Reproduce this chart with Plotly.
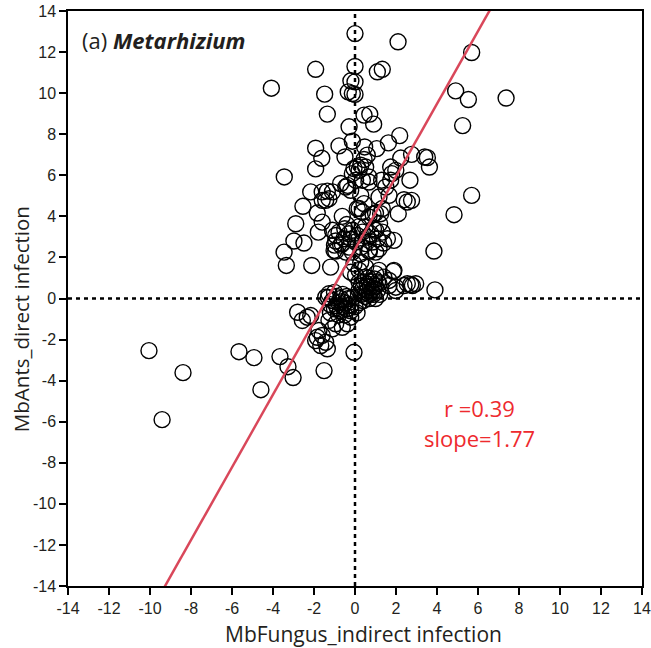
import plotly.graph_objects as go

# ---- data ----
pts = [
    # upper / outer points
    (0.0, 12.9), (2.1, 12.5), (5.69, 11.98), (-1.92, 11.16), (0.0, 11.3), (1.09, 11.04), (1.33, 11.16),
    (-0.2, 10.6), (0.0, 10.55), (-4.08, 10.24), (-1.48, 9.95), (-0.33, 10.06), (-0.13, 9.98), (0.0, 9.94),
    (4.91, 10.11), (5.53, 9.69), (7.37, 9.76), (-1.35, 8.98), (0.44, 8.93), (0.72, 8.98), (0.91, 8.49),
    (-0.29, 8.36), (5.25, 8.42), (2.18, 7.93), (-0.13, 7.66), (-0.78, 7.43), (-1.92, 7.32), (0.47, 7.38),
    (1.06, 7.3), (1.63, 7.58), (-1.62, 6.83), (-0.49, 6.89), (0.6, 6.98), (0.44, 6.77), (2.23, 6.84),
    (2.76, 7.02), (3.4, 6.89), (3.53, 6.86), (3.63, 6.4), (-1.92, 6.31), (-0.05, 6.33), (0.11, 6.4),
    (0.28, 6.49), (1.74, 6.4), (1.79, 6.08), (2.68, 5.76), (-3.45, 5.92), (-0.36, 5.51), (0.03, 5.76),
    (0.68, 5.92), (1.3, 5.76), (-2.16, 5.19), (-1.6, 5.19), (-1.35, 5.23), (-1.1, 5.19), (-1.43, 4.78),
    (5.69, 5.02), (2.39, 4.81), (2.76, 4.78), (2.55, 4.7), (0.28, 5.02), (1.17, 4.94), (-2.54, 4.49),
    (-1.84, 4.16), (-0.62, 4.0), (0.2, 4.38), (0.88, 4.1), (1.0, 4.16), (2.11, 4.13), (4.83, 4.08),
    (-2.89, 3.64), (-1.6, 3.72), (-1.79, 3.23), (-0.13, 6.08), (0.2, 6.24), (0.52, 6.4), (0.36, 5.76),
    (0.68, 5.67), (0.44, 4.62), (0.11, 4.38), (0.36, 4.21), (0.68, 3.97), (1.25, 4.13), (1.33, 4.38),
    (1.66, 5.02), (1.5, 5.43), (1.74, 5.76), (1.99, 6.24), (-0.7, 5.6), (-0.45, 5.43), (-0.21, 5.27),
    (-1.27, 4.86), (-1.6, 4.78),
    # middle cluster
    (-1.1, 3.32), (-0.94, 3.07), (-0.78, 3.23), (-0.54, 2.91), (-0.29, 3.15), (-0.13, 3.32), (0.11, 3.07),
    (0.36, 3.23), (0.6, 2.99), (0.77, 3.15), (1.01, 3.32), (1.33, 3.23), (1.58, 2.91), (1.9, 2.83),
    (-0.62, 2.67), (-0.29, 2.5), (0.03, 2.75), (0.52, 2.67), (0.85, 2.75), (1.17, 2.42), (-1.02, 2.34),
    (-0.45, 2.26), (-0.94, 2.8), (-0.7, 2.6), (-0.2, 2.9), (0.3, 2.5), (0.2, 3.5), (0.5, 3.5), (1.2, 3.65),
    (-0.5, 3.4), (-1.0, 2.6), (0.9, 3.4), (1.4, 2.7), (1.1, 2.9), (-0.4, 3.6), (0.7, 2.3),
    (-2.98, 2.8), (-2.49, 2.7), (-3.46, 2.26), (-0.94, 2.31), (-0.13, 2.26), (0.28, 2.18), (0.68, 2.34),
    (1.01, 2.26), (3.85, 2.31),
    (-3.35, 1.61), (-2.11, 1.61), (-1.19, 1.53), (-0.05, 1.69), (0.28, 1.77), (0.52, 1.53), (0.2, 1.37),
    (-0.21, 1.28), (1.01, 1.2), (0.52, 1.04), (0.03, 1.12), (1.17, 1.37), (1.9, 1.37),
    # near zero, right
    (1.17, 0.72), (1.66, 0.63), (1.99, 0.55), (2.39, 0.63), (2.72, 0.68), (1.41, 1.04), (1.66, 0.88),
    (2.55, 0.72), (2.8, 0.63), (2.96, 0.72), (1.99, 0.39), (3.9, 0.42), (1.87, 1.32),
    # dense blob around (0.7, 0.4)
    (0.3, 0.2), (0.5, 0.1), (0.7, 0.0), (0.9, 0.2), (1.1, 0.4), (1.0, 0.6), (0.8, 0.8), (0.6, 0.7),
    (0.4, 0.5), (0.6, 0.4), (0.8, 0.4), (0.7, 0.2), (0.5, 0.3), (0.9, 0.5), (0.3, 0.6), (0.2, 0.4),
    (1.2, 0.2), (1.0, 0.0), (0.4, -0.1), (0.6, 0.6), (0.75, 0.55), (0.85, 0.3), (0.45, 0.8), (1.1, 0.8),
    (0.2, 0.8), (0.65, 1.0), (0.95, 0.95),
    # dense blob around (-0.7, -0.3)
    (-1.1, -0.1), (-0.9, 0.1), (-0.6, 0.2), (-0.3, 0.0), (-0.2, -0.3), (-0.4, -0.5), (-0.7, -0.6),
    (-1.0, -0.5), (-1.2, -0.3), (-0.8, -0.2), (-0.5, -0.2), (-0.6, -0.4), (-0.9, -0.35), (-0.7, 0.0),
    (-0.4, 0.1), (-1.0, 0.3), (-0.2, -0.6), (-0.5, -0.8), (-0.8, -0.8), (-1.2, -0.7), (-0.1, 0.05),
    (-0.65, -0.15), (-0.85, -0.5), (-0.35, -0.35), (-1.3, 0.05), (0.1, -0.7), (0.0, -0.4), (0.2, -0.2),
    # lower points
    (-1.43, 0.06), (-1.27, 0.23), (-2.8, -0.67), (-2.33, -0.91), (-2.16, -0.83), (-2.57, -1.07),
    (-1.76, -1.56), (-1.6, -1.8), (-1.84, -1.89), (-1.43, -2.13), (-1.67, -2.29), (-1.35, -2.45),
    (-1.92, -2.05), (-0.94, -1.23), (-1.27, -1.07), (-0.62, -1.4), (-0.37, -1.23), (-0.21, -0.91),
    (-1.1, -1.48), (-0.05, -2.62), (-1.51, -3.51), (-3.66, -2.83), (-3.27, -3.32), (-3.02, -3.85),
    (-4.59, -4.44), (-5.66, -2.59), (-4.93, -2.88), (-10.05, -2.54), (-8.39, -3.61), (-9.41, -5.9),
]
fungus_x = [p[0] for p in pts]
ants_y = [p[1] for p in pts]

slope = 1.77
intercept = 2.4
r_value = 0.39
axis_ticks = list(range(-14, 16, 2))
x_title = "MbFungus_indirect infection"
y_title = "MbAnts_direct infection"
line_x = [-14, 14]
line_y = [slope * v + intercept for v in line_x]

fig = go.Figure()
fig.add_trace(go.Scatter(
    x=fungus_x, y=ants_y, mode="markers",
    marker=dict(symbol="circle-open", size=16, color="black", line=dict(width=1.4)),
    showlegend=False, cliponaxis=True,
))
fig.add_trace(go.Scatter(
    x=line_x, y=line_y, mode="lines",
    line=dict(color="#d9475a", width=2.5), showlegend=False,
))

# zero reference lines
fig.add_shape(type="line", xref="x", yref="paper", x0=0, x1=0, y0=0, y1=1,
              line=dict(color="black", width=2.5, dash="4px,4px"), layer="below")
fig.add_shape(type="line", xref="paper", yref="y", x0=0, x1=1, y0=0, y1=0,
              line=dict(color="black", width=2.5, dash="4px,4px"), layer="below")

text_family = "Open Sans, Noto Sans, sans-serif"
tick_font = dict(family="Liberation Sans, Arial, sans-serif", size=16, color="#231f20")

axis_common = dict(
    range=[-14, 14], tickvals=axis_ticks, ticktext=[str(t) for t in axis_ticks],
    showgrid=False, zeroline=False, showline=True, linecolor="black", linewidth=1.5,
    mirror=True, ticks="outside", ticklen=7, tickwidth=1.5, tickcolor="black",
    tickfont=tick_font, automargin=False,
)

fig.update_layout(
    width=651, height=648,
    margin=dict(l=68, r=9, t=11, b=62),
    plot_bgcolor="white", paper_bgcolor="white",
    xaxis=dict(**axis_common),
    yaxis=dict(**axis_common),
    annotations=[
        dict(x=0.514, y=-0.084, xref="paper", yref="paper", xanchor="center", yanchor="middle",
             text=x_title, showarrow=False,
             font=dict(family=text_family, size=21, color="#231f20")),
        dict(x=-0.082, y=0.464, xref="paper", yref="paper", xanchor="center", yanchor="middle",
             text=y_title, showarrow=False, textangle=-90,
             font=dict(family=text_family, size=20.5, color="#231f20")),
        dict(x=-13.4, y=12.6, xref="x", yref="y", xanchor="left", yanchor="middle",
             text="(a) <b><i>Metarhizium</i></b>", showarrow=False,
             font=dict(family=text_family, size=22, color="#231f20")),
        dict(x=6.05, y=-5.35, xref="x", yref="y", xanchor="center", yanchor="middle",
             text=f"r ={r_value:.2f}", showarrow=False,
             font=dict(family=text_family, size=22, color="#ee2a2e")),
        dict(x=6.05, y=-6.8, xref="x", yref="y", xanchor="center", yanchor="middle",
             text=f"slope={slope:.2f}", showarrow=False,
             font=dict(family=text_family, size=22, color="#ee2a2e")),
    ],
)

fig.write_html("out.html")
